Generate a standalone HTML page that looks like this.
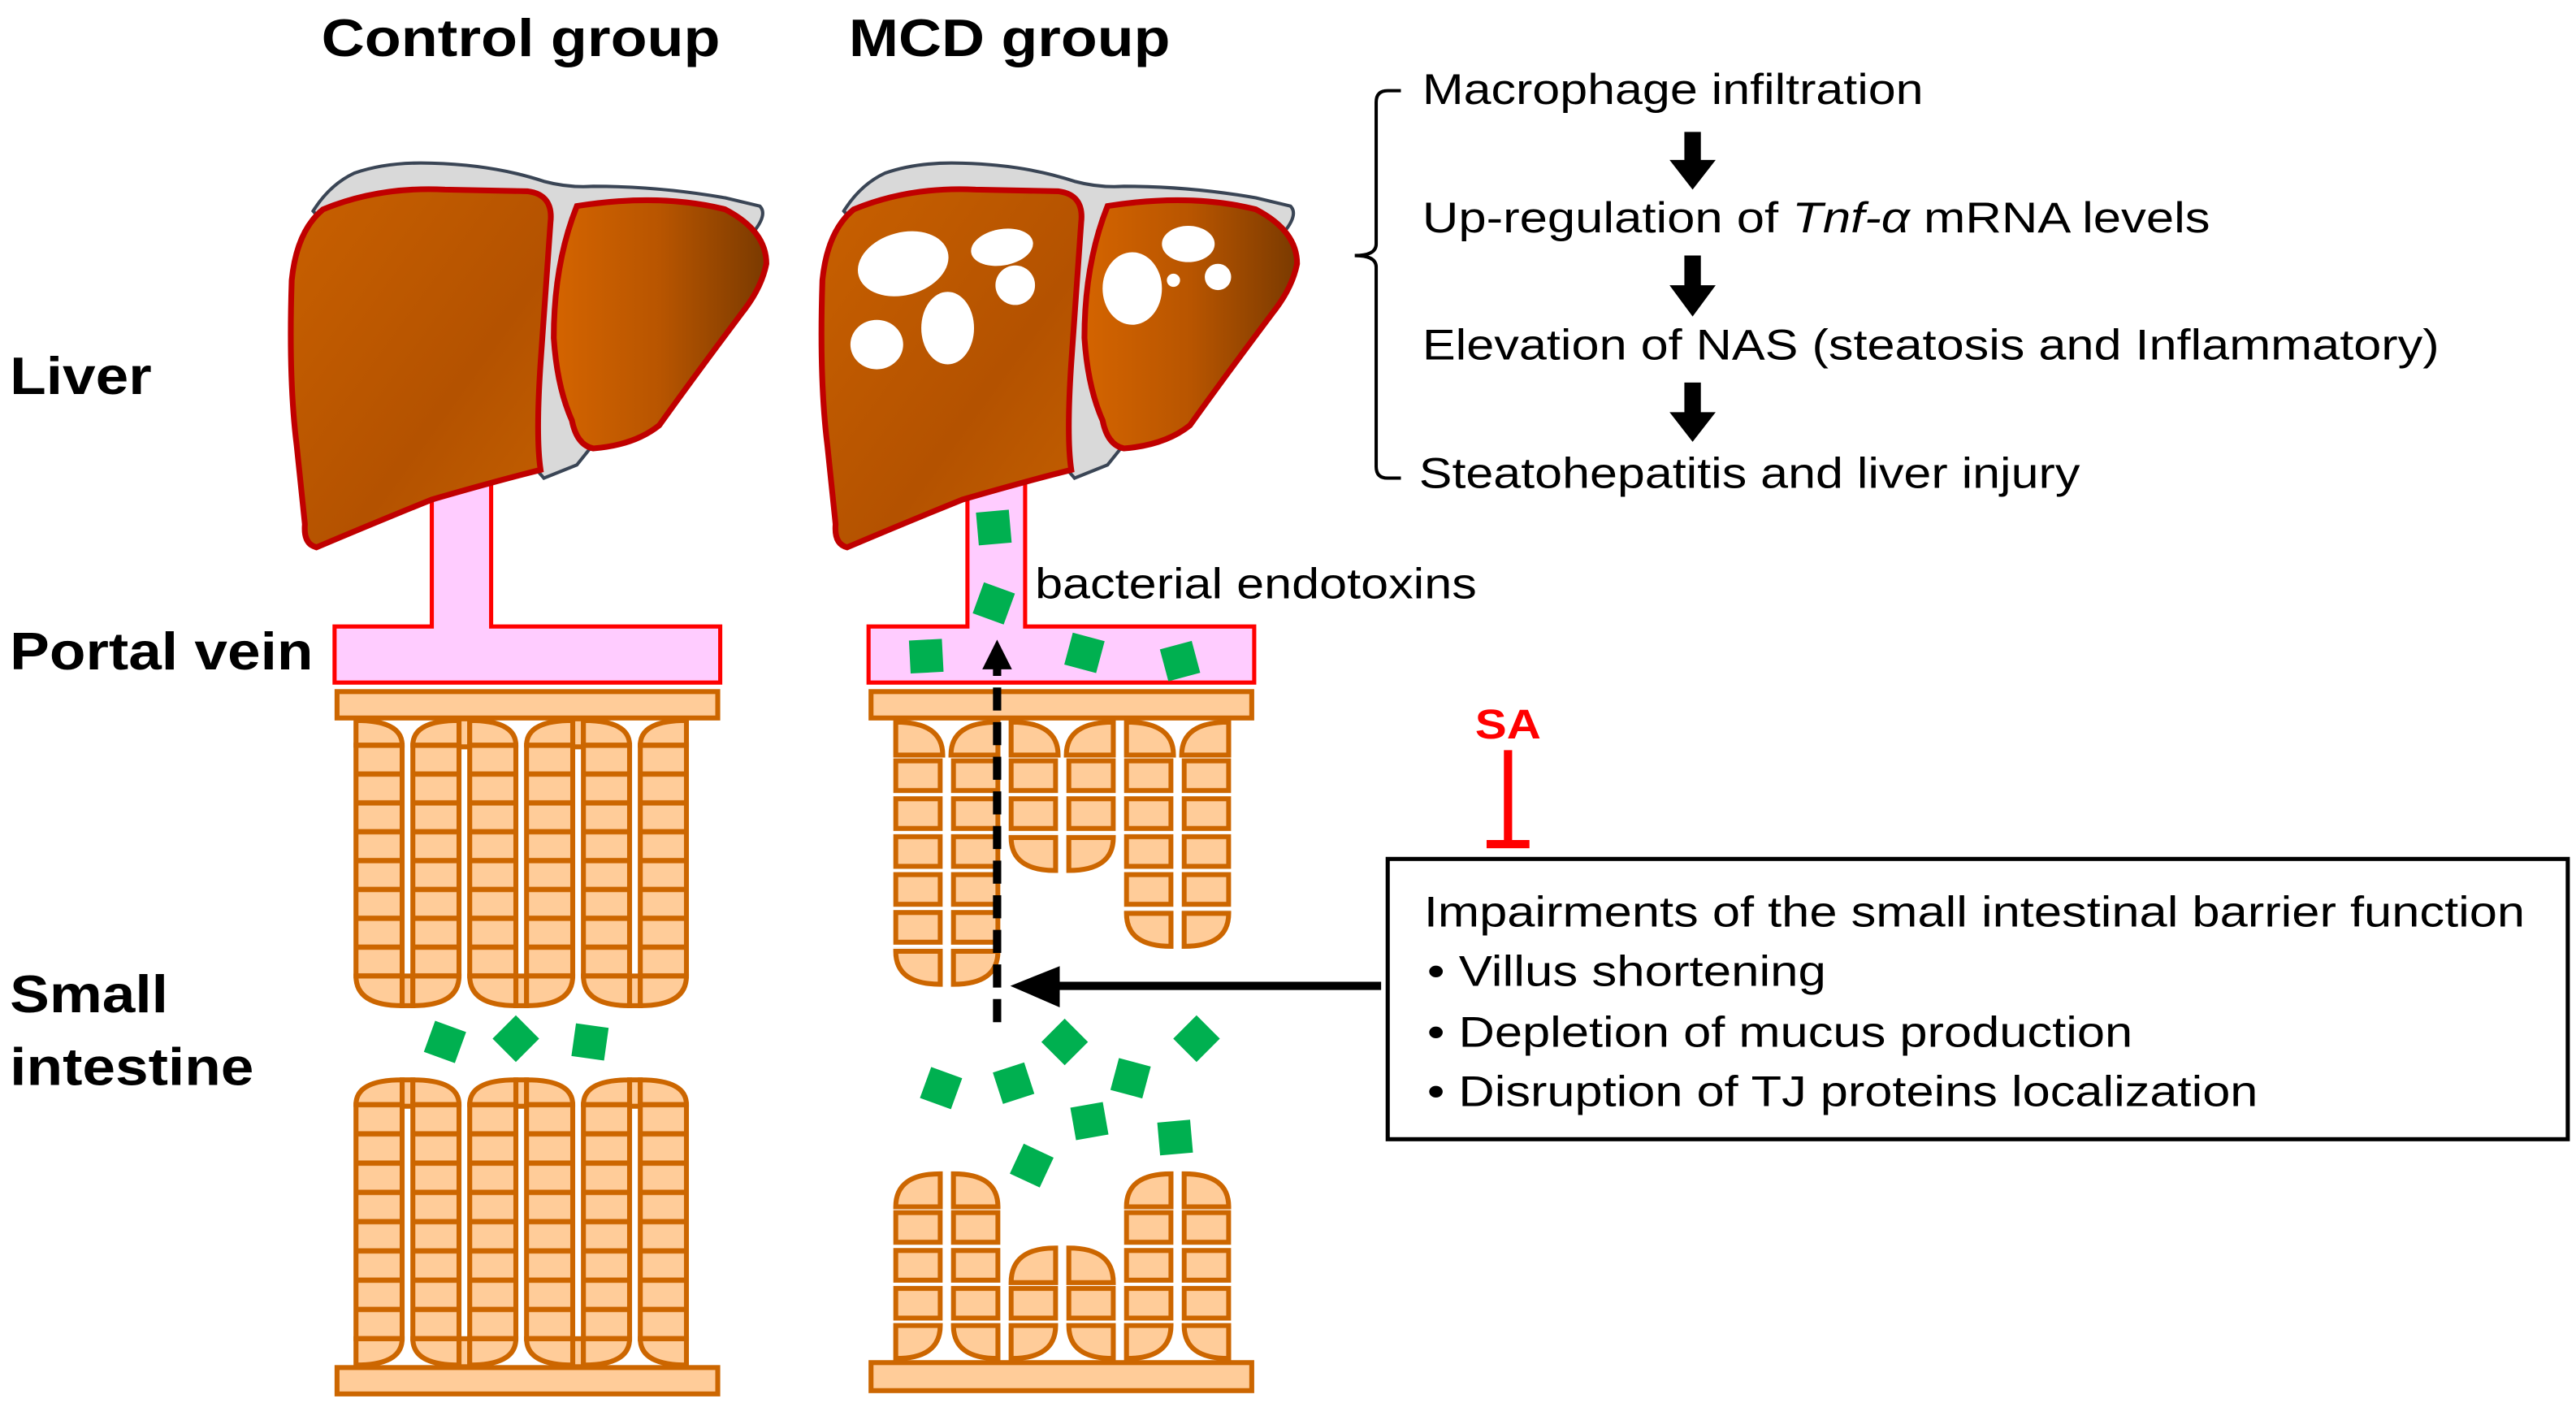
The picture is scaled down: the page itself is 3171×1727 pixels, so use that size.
<!DOCTYPE html>
<html><head><meta charset="utf-8">
<style>
html,body{margin:0;padding:0;background:#fff;}
svg{display:block;}
text{font-family:"Liberation Sans",Arial,sans-serif;}
</style></head>
<body>
<svg width="3171" height="1727" viewBox="0 0 1563 851" preserveAspectRatio="none" xmlns="http://www.w3.org/2000/svg">
<defs>
<linearGradient id="lg1" x1="0" y1="0" x2="1" y2="1">
<stop offset="0" stop-color="#c86000"/><stop offset="0.6" stop-color="#b45200"/><stop offset="1" stop-color="#c46000"/>
</linearGradient>
<linearGradient id="lg2" x1="0" y1="0" x2="1" y2="0">
<stop offset="0" stop-color="#d46400"/><stop offset="0.5" stop-color="#b85500"/><stop offset="1" stop-color="#7a3a00"/>
</linearGradient>
<pattern id="pc1" patternUnits="userSpaceOnUse" x="0" y="452" width="100" height="17.5">
<rect width="100" height="17.5" fill="#ffcc99"/><rect width="100" height="1.6" fill="#cc6600"/><rect y="15.9" width="100" height="1.6" fill="#cc6600"/>
</pattern>
<pattern id="pc2" patternUnits="userSpaceOnUse" x="0" y="670" width="100" height="17.75">
<rect width="100" height="17.75" fill="#ffcc99"/><rect width="100" height="1.6" fill="#cc6600"/><rect y="16.15" width="100" height="1.6" fill="#cc6600"/>
</pattern>
<pattern id="pm1" patternUnits="userSpaceOnUse" x="542" y="460" width="35" height="23">
<rect x="1.5" y="1.5" width="27" height="18" fill="#ffcc99" stroke="#cc6600" stroke-width="3"/>
</pattern>
<pattern id="pm2" patternUnits="userSpaceOnUse" x="542" y="734" width="35" height="23">
<rect x="1.5" y="1.5" width="27" height="18" fill="#ffcc99" stroke="#cc6600" stroke-width="3"/>
</pattern>
<g id="liver">
<path d="M190,128 Q200,112 215,105 Q235,98 262,99 Q300,100 330,110 Q345,114 360,113 Q400,113 440,120 L461,125 Q466,130 457,141 L440,170 L350,282 L330,290 Z" fill="#d9d9d9" stroke="#3a4555" stroke-width="2"/>
<path d="M196,127 Q230,113 270,115 L320,116 Q336,118 334,135 L328,220 Q325,265 328,285 Q300,292 262,303 Q225,318 192,332 Q184,330 185,318 L180,270 Q175,230 177,170 Q180,140 196,127 Z" fill="url(#lg1)" stroke="#c00000" stroke-width="3.5"/>
<path d="M350,125 Q400,117 440,127 Q465,140 465,160 Q462,175 450,190 Q420,230 400,258 Q385,270 360,272 Q350,270 347,255 Q338,235 336,205 Q336,160 350,125 Z" fill="url(#lg2)" stroke="#c00000" stroke-width="3.5"/>
</g>
</defs>

<!-- titles -->
<text x="195" y="34" font-size="32" font-weight="bold" textLength="242" lengthAdjust="spacingAndGlyphs">Control group</text>
<text x="515" y="34" font-size="32" font-weight="bold" textLength="195" lengthAdjust="spacingAndGlyphs">MCD group</text>
<text x="6" y="239" font-size="32" font-weight="bold" textLength="86" lengthAdjust="spacingAndGlyphs">Liver</text>
<text x="6" y="406" font-size="32" font-weight="bold" textLength="184" lengthAdjust="spacingAndGlyphs">Portal vein</text>
<text x="6" y="614" font-size="32" font-weight="bold" textLength="96" lengthAdjust="spacingAndGlyphs">Small</text>
<text x="6" y="658" font-size="32" font-weight="bold" textLength="148" lengthAdjust="spacingAndGlyphs">intestine</text>

<!-- portal veins -->
<path d="M262,285 V380 H203 V414 H437 V380 H298 V285" fill="#ffccff" stroke="#ff0000" stroke-width="2.5"/>
<path d="M587,285 V380 H527 V414 H761 V380 H622 V285" fill="#ffccff" stroke="#ff0000" stroke-width="2.5"/>

<!-- livers -->
<use href="#liver"/>
<use href="#liver" transform="translate(322,0)"/>
<g fill="#fff">
<ellipse cx="548" cy="160" rx="28" ry="19" transform="rotate(-15 548 160)"/>
<ellipse cx="608" cy="150" rx="19" ry="11" transform="rotate(-10 608 150)"/>
<circle cx="616" cy="173" r="12"/>
<ellipse cx="575" cy="199" rx="16" ry="22"/>
<ellipse cx="532" cy="209" rx="16" ry="15"/>
<ellipse cx="687" cy="175" rx="18" ry="22"/>
<ellipse cx="721" cy="148" rx="16" ry="11"/>
<circle cx="739" cy="168" r="8"/>
<circle cx="712" cy="170" r="4"/>
</g>

<!-- control intestine -->
<g stroke="#cc6600" stroke-width="3" fill="#ffcc99">
<rect x="204.5" y="419.5" width="231" height="16"/>
<rect x="204.5" y="829.5" width="231" height="16"/>
<rect x="278.5" y="436" width="6.5" height="17"/><rect x="347.5" y="436" width="6.5" height="17"/>
<rect x="244" y="592" width="6.5" height="18"/><rect x="313" y="592" width="6.5" height="18"/><rect x="382" y="592" width="6.5" height="18"/>
<rect x="244" y="655" width="6.5" height="16"/><rect x="313" y="655" width="6.5" height="16"/><rect x="382" y="655" width="6.5" height="16"/>
<rect x="278.5" y="812" width="6.5" height="17"/><rect x="347.5" y="812" width="6.5" height="17"/>
<path d="M216,452V437Q244,437 244,452Z"/><path d="M278.5,452V437Q250.5,437 250.5,452Z"/>
<path d="M285,452V437Q313,437 313,452Z"/><path d="M347.5,452V437Q319.5,437 319.5,452Z"/>
<path d="M354,452V437Q382,437 382,452Z"/><path d="M416.5,452V437Q388.5,437 388.5,452Z"/>
<path d="M244,592V610Q216,610 216,592Z"/><path d="M250.5,592V610Q278.5,610 278.5,592Z"/>
<path d="M313,592V610Q285,610 285,592Z"/><path d="M319.5,592V610Q347.5,610 347.5,592Z"/>
<path d="M382,592V610Q354,610 354,592Z"/><path d="M388.5,592V610Q416.5,610 416.5,592Z"/>
<path d="M244,670V655Q216,655 216,670Z"/><path d="M250.5,670V655Q278.5,655 278.5,670Z"/>
<path d="M313,670V655Q285,655 285,670Z"/><path d="M319.5,670V655Q347.5,655 347.5,670Z"/>
<path d="M382,670V655Q354,655 354,670Z"/><path d="M388.5,670V655Q416.5,655 416.5,670Z"/>
<path d="M216,812V828Q244,828 244,812Z"/><path d="M278.5,812V828Q250.5,828 250.5,812Z"/>
<path d="M285,812V828Q313,828 313,812Z"/><path d="M347.5,812V828Q319.5,828 319.5,812Z"/>
<path d="M354,812V828Q382,828 382,812Z"/><path d="M416.5,812V828Q388.5,828 388.5,812Z"/>
</g>
<g stroke="#cc6600" stroke-width="3" fill="url(#pc1)">
<rect x="216" y="452" width="28" height="140"/><rect x="250.5" y="452" width="28" height="140"/>
<rect x="285" y="452" width="28" height="140"/><rect x="319.5" y="452" width="28" height="140"/>
<rect x="354" y="452" width="28" height="140"/><rect x="388.5" y="452" width="28" height="140"/>
</g>
<g stroke="#cc6600" stroke-width="3" fill="url(#pc2)">
<rect x="216" y="670" width="28" height="142"/><rect x="250.5" y="670" width="28" height="142"/>
<rect x="285" y="670" width="28" height="142"/><rect x="319.5" y="670" width="28" height="142"/>
<rect x="354" y="670" width="28" height="142"/><rect x="388.5" y="670" width="28" height="142"/>
</g>

<!-- MCD intestine -->
<g stroke="#cc6600" stroke-width="3" fill="#ffcc99">
<rect x="528.5" y="419.5" width="231" height="16"/>
<rect x="528.5" y="826.5" width="231" height="17"/>
<!-- upper top caps 438-458 -->
<path d="M543.5,458V438Q572,438 572,458Z"/><path d="M605.5,458V438Q577,438 577,458Z"/>
<path d="M613.5,458V438Q642,438 642,458Z"/><path d="M675.5,458V438Q647,438 647,458Z"/>
<path d="M683.5,458V438Q712,438 712,458Z"/><path d="M745.5,458V438Q717,438 717,458Z"/>
<!-- upper bottom caps -->
<path d="M570.5,577V597Q543.5,597 543.5,577Z"/><path d="M578.5,577V597Q605.5,597 605.5,577Z"/>
<path d="M640.5,508V528Q613.5,528 613.5,508Z"/><path d="M648.5,508V528Q675.5,528 675.5,508Z"/>
<path d="M710.5,554V574Q683.5,574 683.5,554Z"/><path d="M718.5,554V574Q745.5,574 745.5,554Z"/>
<!-- lower top caps -->
<path d="M570.5,732V712Q543.5,712 543.5,732Z"/><path d="M578.5,732V712Q605.5,712 605.5,732Z"/>
<path d="M640.5,778V757Q613.5,757 613.5,778Z"/><path d="M648.5,778V757Q675.5,757 675.5,778Z"/>
<path d="M710.5,732V712Q683.5,712 683.5,732Z"/><path d="M718.5,732V712Q745.5,712 745.5,732Z"/>
<!-- lower bottom caps -->
<path d="M543.5,804V824Q570.5,824 570.5,804Z"/><path d="M605.5,804V824Q578.5,824 578.5,804Z"/>
<path d="M613.5,804V824Q640.5,824 640.5,804Z"/><path d="M675.5,804V824Q648.5,824 648.5,804Z"/>
<path d="M683.5,804V824Q710.5,824 710.5,804Z"/><path d="M745.5,804V824Q718.5,824 718.5,804Z"/>
</g>
<g fill="url(#pm1)">
<rect x="542" y="460" width="30" height="115"/><rect x="577" y="460" width="30" height="115"/>
<rect x="612" y="460" width="30" height="46"/><rect x="647" y="460" width="30" height="46"/>
<rect x="682" y="460" width="30" height="92"/><rect x="717" y="460" width="30" height="92"/>
</g>
<g fill="url(#pm2)">
<rect x="542" y="734" width="30" height="69"/><rect x="577" y="734" width="30" height="69"/>
<rect x="612" y="780" width="30" height="23"/><rect x="647" y="780" width="30" height="23"/>
<rect x="682" y="734" width="30" height="69"/><rect x="717" y="734" width="30" height="69"/>
</g>

<!-- endotoxins -->
<g fill="#00b050">
<rect x="-10" y="-10" width="20" height="20" transform="translate(270,632) rotate(20)"/>
<rect x="-10" y="-10" width="20" height="20" transform="translate(313,630) rotate(45)"/>
<rect x="-10" y="-10" width="20" height="20" transform="translate(358,632) rotate(8)"/>
<rect x="-10" y="-10" width="20" height="20" transform="translate(603,320) rotate(-5)"/>
<rect x="-10" y="-10" width="20" height="20" transform="translate(603,366) rotate(20)"/>
<rect x="-10" y="-10" width="20" height="20" transform="translate(562,398) rotate(-3)"/>
<rect x="-10" y="-10" width="20" height="20" transform="translate(658,396) rotate(15)"/>
<rect x="-10" y="-10" width="20" height="20" transform="translate(716,401) rotate(-15)"/>
<rect x="-10" y="-10" width="20" height="20" transform="translate(571,660) rotate(20)"/>
<rect x="-10" y="-10" width="20" height="20" transform="translate(615,657) rotate(-18)"/>
<rect x="-10" y="-10" width="20" height="20" transform="translate(646,632) rotate(45)"/>
<rect x="-10" y="-10" width="20" height="20" transform="translate(686,654) rotate(15)"/>
<rect x="-10" y="-10" width="20" height="20" transform="translate(726,630) rotate(45)"/>
<rect x="-10" y="-10" width="20" height="20" transform="translate(661,680) rotate(-10)"/>
<rect x="-10" y="-10" width="20" height="20" transform="translate(713,690) rotate(-5)"/>
<rect x="-10" y="-10" width="20" height="20" transform="translate(626,707) rotate(25)"/>
</g>

<!-- dashed arrow -->
<line x1="605" y1="620" x2="605" y2="405" stroke="#000" stroke-width="5" stroke-dasharray="14,7"/>
<polygon points="605,388 596,406 614,406" fill="#000"/>
<text x="628" y="363" font-size="26" textLength="268" lengthAdjust="spacingAndGlyphs">bacterial endotoxins</text>

<!-- solid arrow -->
<line x1="838" y1="598" x2="640" y2="598" stroke="#000" stroke-width="5"/>
<polygon points="613,598 643,586 643,611" fill="#000"/>

<!-- SA -->
<text x="895" y="448" font-size="25" font-weight="bold" fill="#ff0000" textLength="40" lengthAdjust="spacingAndGlyphs">SA</text>
<line x1="915" y1="455" x2="915" y2="512" stroke="#ff0000" stroke-width="5"/>
<line x1="902" y1="512" x2="928" y2="512" stroke="#ff0000" stroke-width="5"/>

<!-- box -->
<rect x="842" y="521" width="716" height="170" fill="#fff" stroke="#000" stroke-width="2.5"/>
<text x="864" y="562" font-size="26" textLength="668" lengthAdjust="spacingAndGlyphs">Impairments of the small intestinal barrier function</text>
<text x="866" y="598" font-size="26" textLength="242" lengthAdjust="spacingAndGlyphs">• Villus shortening</text>
<text x="866" y="635" font-size="26" textLength="428" lengthAdjust="spacingAndGlyphs">• Depletion of mucus production</text>
<text x="866" y="671" font-size="26" textLength="504" lengthAdjust="spacingAndGlyphs">• Disruption of TJ proteins localization</text>

<!-- right panel -->
<path d="M850,55 H842 Q835,55 835,62 V148 Q835,155 822,155 Q835,155 835,162 V283 Q835,290 842,290 H850" fill="none" stroke="#000" stroke-width="2"/>
<text x="863" y="63" font-size="26" textLength="304" lengthAdjust="spacingAndGlyphs">Macrophage infiltration</text>
<text x="863" y="141" font-size="26" textLength="478" lengthAdjust="spacingAndGlyphs">Up-regulation of <tspan font-style="italic">Tnf-α</tspan> mRNA levels</text>
<text x="863" y="218" font-size="26" textLength="617" lengthAdjust="spacingAndGlyphs">Elevation of NAS (steatosis and Inflammatory)</text>
<text x="861" y="296" font-size="26" textLength="401" lengthAdjust="spacingAndGlyphs">Steatohepatitis and liver injury</text>
<g fill="#000">
<polygon points="1022,80 1032,80 1032,97 1041,97 1027,115 1013,97 1022,97"/>
<polygon points="1022,155 1032,155 1032,173 1041,173 1027,192 1013,173 1022,173"/>
<polygon points="1022,232 1032,232 1032,250 1041,250 1027,268 1013,250 1022,250"/>
</g>
</svg>
</body></html>
